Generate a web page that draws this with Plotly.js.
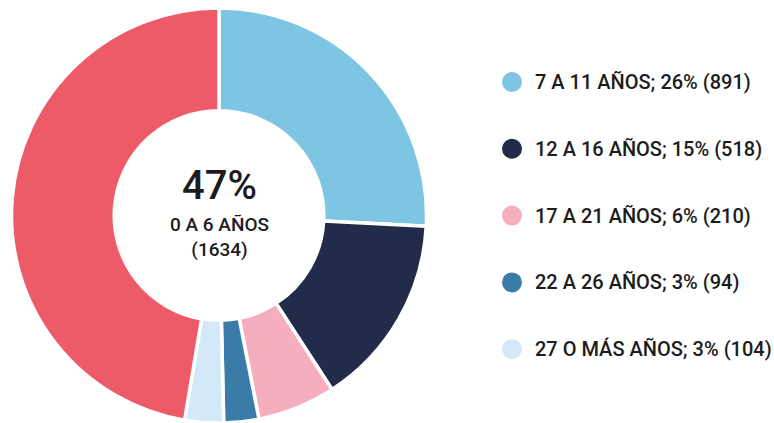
<!DOCTYPE html>
<html><head><meta charset="utf-8">
<script src="https://cdn.plot.ly/plotly-3.0.1.min.js"></script>
<style>html,body{margin:0;padding:0;background:#fff}#c{width:774px;height:423px}</style>
</head><body><div id="c"></div>
<script>
const categories = ["7 A 11 AÑOS","12 A 16 AÑOS","17 A 21 AÑOS","22 A 26 AÑOS","27 O MÁS AÑOS","0 A 6 AÑOS"];
const values = [891, 518, 210, 94, 104, 1634];
const percents = [26, 15, 6, 3, 3, 47];
const colors = ["#7EC4E3","#232B4B","#F4AEBE","#3A7CA8","#D3E9F8","#EC5B67"];
const legendLabels = categories.slice(0,5).map((c,i)=>`${c}; ${percents[i]}% (${values[i]})`);

const W=774,H=423;
const font="Roboto, sans-serif", txt="#1c1c1c";
const legY0=82, legGap=66.8, legX=512;
const legYs = legendLabels.map((_,i)=>legY0+i*legGap);

const pie = {
  type:'pie', values: values, labels: categories, sort:false, direction:'clockwise', rotation:0,
  hole:0.505, textinfo:'none', hoverinfo:'label+value+percent',
  marker:{colors: colors, line:{color:'#ffffff', width:3.5}},
  domain:{x:[11/W, 427/W], y:[0, (H-8)/H]}, showlegend:false
};
const leg = {
  type:'scatter', mode:'markers', x: legendLabels.map(()=>legX), y: legYs,
  marker:{size:20, color: colors.slice(0,5)}, hoverinfo:'skip', showlegend:false,
  xaxis:'x', yaxis:'y'
};
const annotations = legendLabels.map((t,i)=>({x:533, y:legYs[i], xref:'x', yref:'y', text:t, showarrow:false,
  xanchor:'left', yanchor:'middle', font:{family:font, size:20, color:txt, weight:500}}));
const cx=219, splitY=211;
annotations.push({x:cx, y:splitY, xref:'x', yref:'y', text: `${percents[5]}%`,
  showarrow:false, xanchor:'center', yanchor:'bottom', font:{family:font,size:40,color:txt,weight:500}});
annotations.push({x:cx, y:splitY, xref:'x', yref:'y', text: `${categories[5]}<br>(${values[5]})`,
  showarrow:false, xanchor:'center', yanchor:'top', align:'center', font:{family:font,size:19,color:txt,weight:500}});

const layout = {
  width:W, height:H, margin:{l:0,r:0,t:0,b:0}, paper_bgcolor:'#fff', plot_bgcolor:'rgba(0,0,0,0)',
  xaxis:{range:[0,W], visible:false, fixedrange:true},
  yaxis:{range:[H,0], visible:false, fixedrange:true},
  annotations: annotations, showlegend:false
};
Plotly.newPlot('c',[pie,leg],layout,{displayModeBar:false, staticPlot:true});
</script></body></html>
